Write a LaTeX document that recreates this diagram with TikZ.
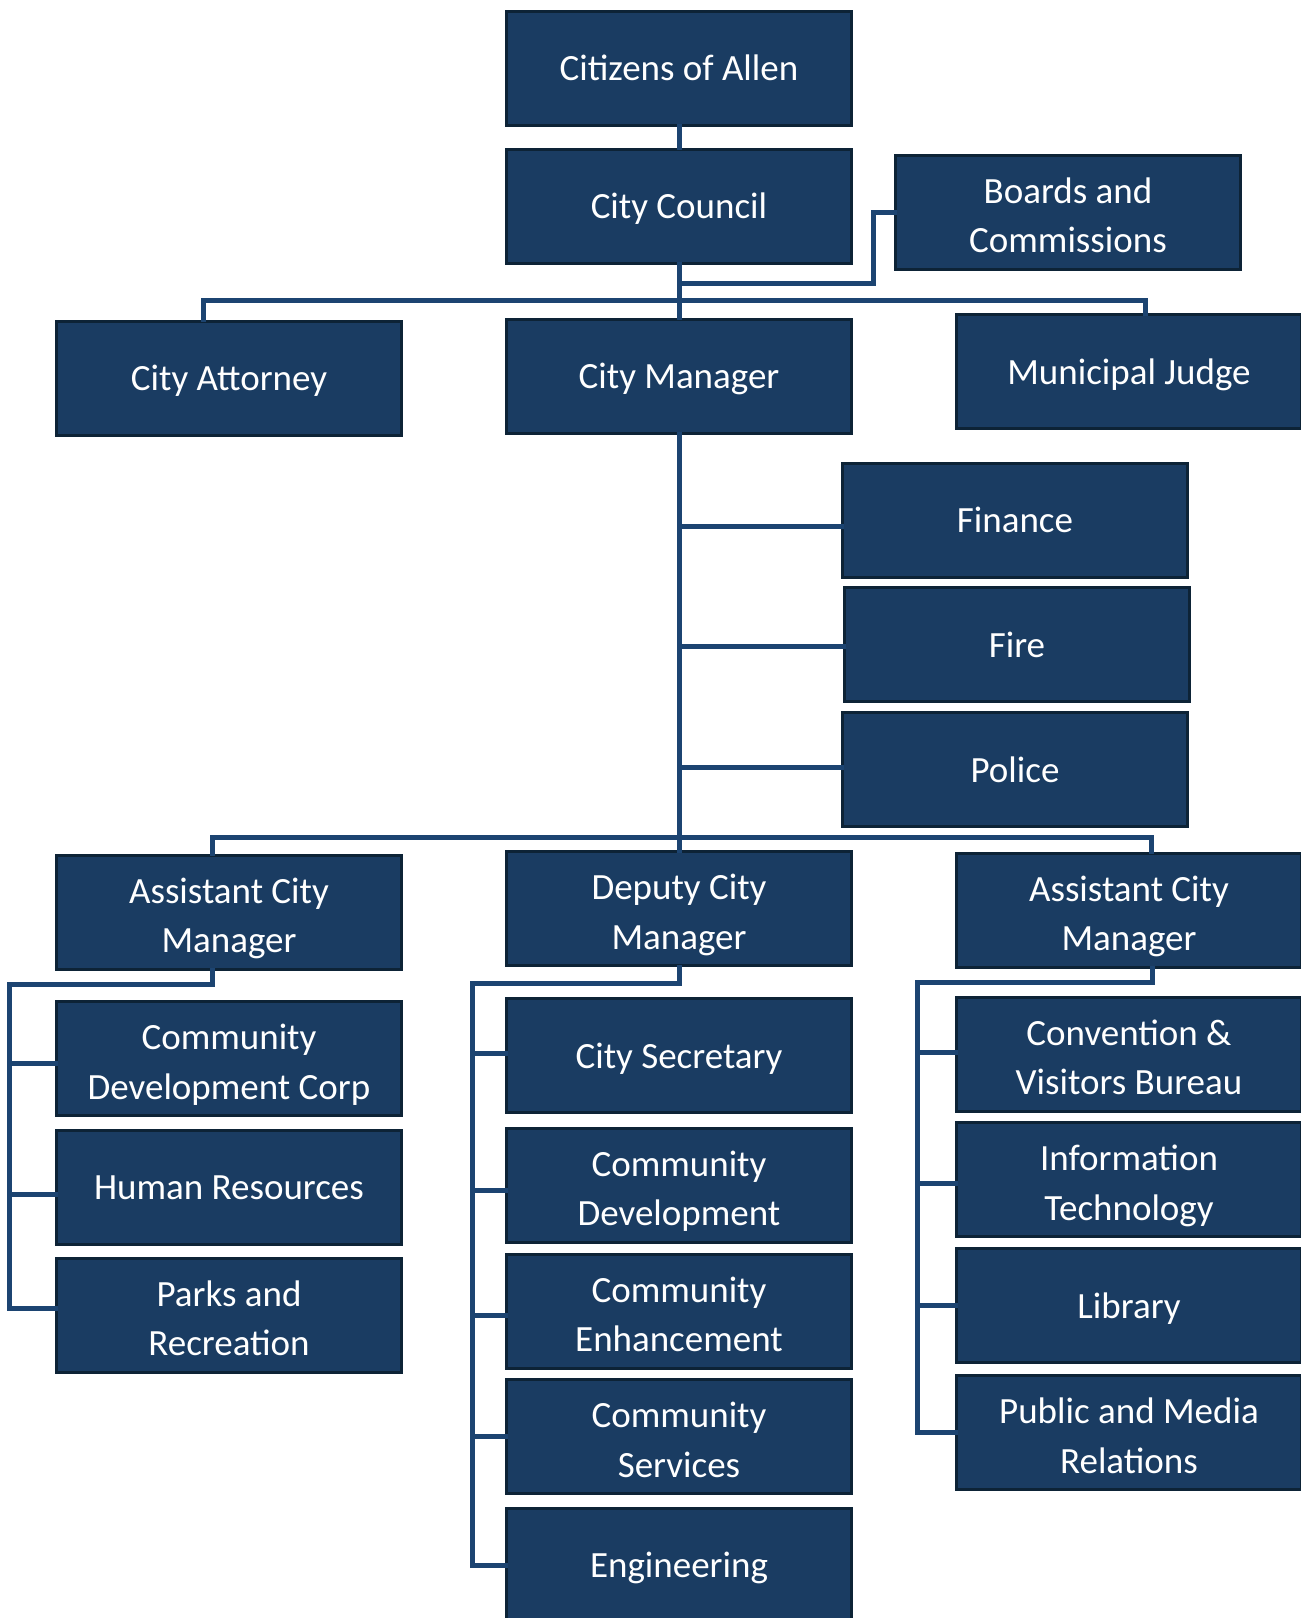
\documentclass[tikz,border=0pt]{standalone}
\usepackage{fontspec}
\setmainfont{Carlito}
\definecolor{boxfill}{HTML}{1A3C62}
\definecolor{boxborder}{HTML}{0D2336}
\definecolor{linecol}{HTML}{1C4471}
\tikzset{
  box/.style={draw=boxborder, line width=3pt, fill=boxfill, text=white,
    minimum width=345pt, minimum height=114pt, inner sep=0pt,
    text width=340pt, align=flush center,
    font=\fontsize{37}{49.5}\selectfont,
    execute at begin node={\rule{0pt}{\firstht}},
    execute at end node={\rule[-8.4pt]{0pt}{8.4pt}}},
  twoline/.style={execute at begin node={\def\firstht{40pt}}},
  link/.style={draw=linecol, line width=5pt, line cap=rect}
}
\def\firstht{34pt}
\begin{document}
\begin{tikzpicture}[x=1pt,y=-1pt]
\useasboundingbox (0,0) rectangle (1301,1618);
% top
\node[box] (cit) at (679,68) {Citizens of Allen};
\node[box] (council) at (679,206) {City Council};
\node[twoline,box] (boards) at (1068,212) {Boards and\\Commissions};
\node[box] (attorney) at (229,378) {City Attorney};
\node[box] (manager) at (679,376) {City Manager};
\node[box] (judge) at (1129,371.5) {Municipal Judge};
\node[box] (finance) at (1015,520) {Finance};
\node[box] (fire) at (1017,644.5) {Fire};
\node[box] (police) at (1015,769.5) {Police};
% second tier
\node[twoline,box] (acmL) at (229,912) {Assistant City\\Manager};
\node[twoline,box] (dcm) at (679,908.5) {Deputy City\\Manager};
\node[twoline,box] (acmR) at (1129,910) {Assistant City\\Manager};
% left column
\node[twoline,box] (cdc) at (229,1058.5) {Community\\Development Corp};
\node[box] (hr) at (229,1187) {Human Resources};
\node[twoline,box] (parks) at (229,1315) {Parks and\\Recreation};
% middle column
\node[box] (sec) at (679,1055.5) {City Secretary};
\node[twoline,box] (cdev) at (679,1185) {Community\\Development};
\node[twoline,box] (cenh) at (679,1311) {Community\\Enhancement};
\node[twoline,box] (csvc) at (679,1436.5) {Community\\Services};
\node[box] (eng) at (679,1565) {Engineering};
% right column
\node[twoline,box] (conv) at (1129,1054) {Convention \&\\Visitors Bureau};
\node[twoline,box] (it) at (1129,1179.5) {Information\\Technology};
\node[box] (lib) at (1129,1305.5) {Library};
\node[twoline,box] (prm) at (1129,1432.5) {Public and Media\\Relations};

% connectors
\draw[link] (cit.south) -- (council.north);
\draw[link] (council.south) -- (manager.north);
\draw[link] (boards.west) -- ++(-21,0) |- ([yshift=-19pt]council.south);
\draw[link] ([xshift=-26pt]attorney.north) |- ([yshift=17pt]manager.north) -| ([xshift=16pt]judge.north);
\draw[link] (manager.south) -- (dcm.north);
\draw[link] ([yshift=-6pt]finance.west) -- ++(-162,0);
\draw[link] ([yshift=-1.5pt]fire.west) -- ++(-164,0);
\draw[link] ([yshift=2.5pt]police.west) -- ++(-162,0);
\draw[link] ([xshift=-17pt]acmL.north) |- ([yshift=13pt]dcm.north) -| ([xshift=22pt]acmR.north);
% left subtree
\draw[link] ([xshift=-17pt]acmL.south) -- ++(0,14) -| ([xshift=-46pt,yshift=7pt]parks.west) -- ([yshift=7pt]parks.west);
\draw[link] ([xshift=-46pt,yshift=-4.5pt]cdc.west) -- ([yshift=-4.5pt]cdc.west);
\draw[link] ([xshift=-46pt,yshift=-7pt]hr.west) -- ([yshift=-7pt]hr.west);
% middle subtree
\draw[link] (dcm.south) -- ++(0,16) -| ([xshift=-33pt]eng.west) -- (eng.west);
\draw[link] ([xshift=-33pt,yshift=2.5pt]sec.west) -- ([yshift=2.5pt]sec.west);
\draw[link] ([xshift=-33pt,yshift=-5pt]cdev.west) -- ([yshift=-5pt]cdev.west);
\draw[link] ([xshift=-33pt,yshift=-4pt]cenh.west) -- ([yshift=-4pt]cenh.west);
\draw[link] ([xshift=-33pt]csvc.west) -- (csvc.west);
% right subtree
\draw[link] ([xshift=23pt]acmR.south) -- ++(0,14) -| ([xshift=-38pt]prm.west) -- (prm.west);
\draw[link] ([xshift=-38pt,yshift=2pt]conv.west) -- ([yshift=2pt]conv.west);
\draw[link] ([xshift=-38pt,yshift=-3.5pt]it.west) -- ([yshift=-3.5pt]it.west);
\draw[link] ([xshift=-38pt]lib.west) -- (lib.west);
\end{tikzpicture}
\end{document}
